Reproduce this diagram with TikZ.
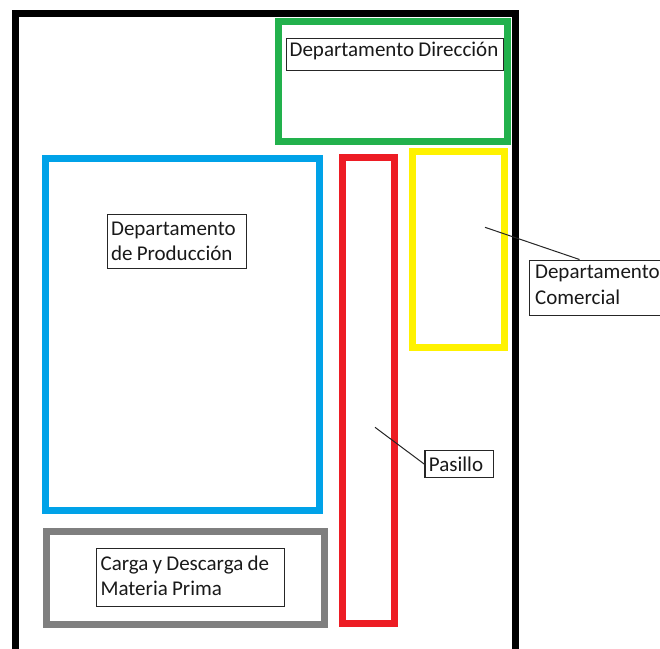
\documentclass[tikz,border=0pt]{standalone}
\usepackage{fontspec}
\newfontfamily\lblfont{Carlito}
\definecolor{dirgreen}{HTML}{22B14C}
\definecolor{prodblue}{HTML}{00A2E8}
\definecolor{hallred}{HTML}{ED1C24}
\definecolor{comyellow}{HTML}{FFF200}
\definecolor{loadgray}{HTML}{7F7F7F}
\begin{document}
\begin{tikzpicture}[x=1pt,y=-1pt,
  wall/.style={line width=7pt, line join=miter},
  zone/.style={line width=7pt, line join=miter},
  tag/.style={draw=black!85, line width=1.2pt, anchor=north west, inner ysep=0pt,
    align=left, font=\lblfont\fontsize{21}{25.6}\selectfont, text=black!90,
    execute at begin node={\spaceskip=0.2em\relax\hyphenpenalty=10000\relax}},
  leader/.style={draw=black!85, line width=1pt}]
\clip (0,0) rectangle (660,648);
\fill[white] (0,0) rectangle (660,648);

% outer wall of the plant, open at the bottom
\draw[wall] (15,670) -- (15,13.5) -- (515.5,13.5) -- (515.5,670);

% areas
\draw[zone, draw=dirgreen]  (278.5,21.5) rectangle (507,141.3);
\draw[zone, draw=prodblue]  (45,158.3)   rectangle (319.7,510.5);
\draw[zone, draw=hallred]   (342.5,157)  rectangle (394.2,623.7);
\draw[zone, draw=comyellow] (412.7,151.5) rectangle (504.2,347.5);
\draw[zone, draw=loadgray]  (46.3,531.7) rectangle (324.2,624.5);

% labels
\node[tag, inner xsep=3pt, text width=211pt, text height=18pt, text depth=14pt]
  (dir) at (286,38) {Departamento~Dirección};
\node[tag, inner xsep=4pt, text width=131.5pt, text height=20.5pt, text depth=33.5pt]
  (prod) at (106.5,214) {Departamento\\de Producción};
\node[tag, inner xsep=4pt, text width=179.5pt, text height=22pt, text depth=36pt]
  (load) at (96,547.5) {Carga y Descarga de\\Materia Prima};
\node[tag, inner xsep=4pt, text width=60.5pt, text height=21pt, text depth=6pt]
  (hall) at (424.3,450) {Pasillo};
\node[tag, inner xsep=6pt, text width=148pt, text height=18.5pt, text depth=37pt]
  (com) at (528.5,259.5) {Departamento\\Comercial};

% leader lines
\coordinate (comPt) at (485,227.3);
\coordinate (hallPt) at (375,427.3);
\draw[leader] (comPt) -- ([xshift=51pt]com.north west);
\draw[leader] (hallPt) -- (hall.west);
\end{tikzpicture}
\end{document}
